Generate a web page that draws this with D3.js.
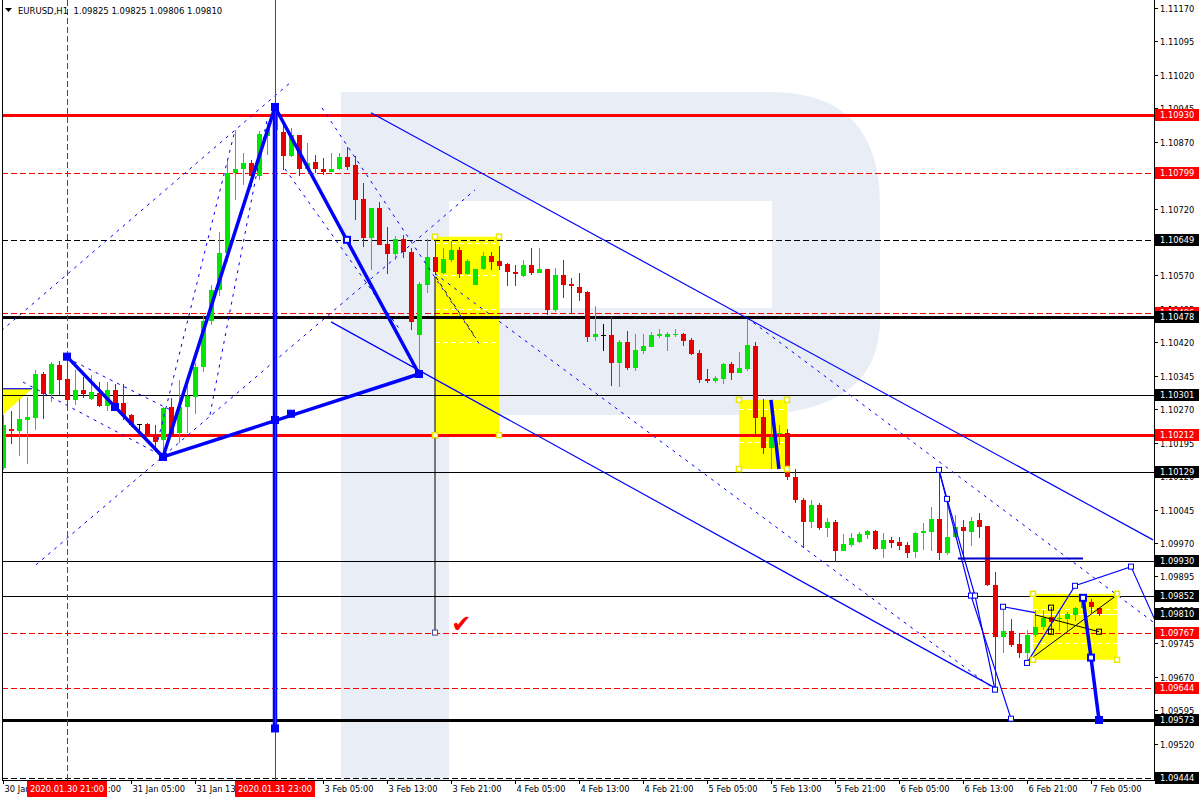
<!DOCTYPE html>
<html><head><meta charset="utf-8">
<script src="https://cdn.jsdelivr.net/npm/d3@7"></script>
<style>
html,body{margin:0;padding:0;background:#fff;overflow:hidden;}
svg{display:block;font-family:"DejaVu Sans",sans-serif;}
</style></head><body>
<svg id="c" width="1200" height="800"></svg>
<script>
// ---------------- DATA ----------------
const symbolTitle = "EURUSD,H1";
const lastQuote = ["1.09825","1.09825","1.09806","1.09810"];
const currentPrice = 1.09810;

const open = [1.10139,1.10226,1.10222,1.10246,1.10251,1.10349,1.10305,1.10370,1.10338,1.10291,
1.10314,1.10293,1.10307,1.10278,1.10314,1.10284,1.10258,1.10237,1.10237,1.10213,
1.10201,1.10275,1.10217,1.10275,1.10298,1.10365,1.10468,1.10538,1.10621,1.10800,
1.10809,1.10823,1.10793,1.10883,1.10896,1.10892,1.10838,1.10885,1.10809,1.10825,
1.10809,1.10802,1.10809,1.10836,1.10818,1.10742,1.10654,1.10722,1.10641,1.10618,
1.10652,1.10623,1.10437,1.10549,1.10612,1.10576,1.10605,1.10627,1.10574,1.10549,
1.10585,1.10614,1.10603,1.10596,1.10578,1.10569,1.10594,1.10576,1.10585,1.10493,
1.10571,1.10551,1.10544,1.10533,1.10432,1.10437,1.10437,1.10374,1.10421,1.10363,
1.10401,1.10410,1.10435,1.10432,1.10437,1.10439,1.10426,1.10396,1.10338,1.10334,
1.10338,1.10372,1.10352,1.10361,1.10412,1.10253,1.10184,1.10215,1.10217,1.10119,
1.10067,1.10018,1.10056,1.10004,1.10018,1.09953,1.09966,1.09973,1.09988,1.09997,
1.09957,1.09977,1.09973,1.09966,1.09950,1.09993,1.09995,1.10024,1.09948,1.09984,
1.10006,1.09995,1.10022,1.10009,1.09876,1.09760,1.09773,1.09744,1.09724,1.09764,
1.09782,1.09805,1.09800,1.09800,1.09809,1.09825,1.09838,1.09825];
const high = [1.10258,1.10266,1.10293,1.10298,1.10358,1.10354,1.10376,1.10379,1.10388,1.10358,
1.10343,1.10347,1.10331,1.10331,1.10327,1.10327,1.10260,1.10237,1.10240,1.10235,
1.10275,1.10296,1.10336,1.10329,1.10374,1.10482,1.10549,1.10668,1.10829,1.10896,
1.10845,1.10829,1.10894,1.10912,1.10948,1.10919,1.10901,1.10885,1.10868,1.10840,
1.10834,1.10845,1.10845,1.10858,1.10838,1.10778,1.10722,1.10735,1.10679,1.10659,
1.10661,1.10632,1.10556,1.10652,1.10657,1.10632,1.10648,1.10634,1.10607,1.10585,
1.10623,1.10623,1.10636,1.10598,1.10594,1.10605,1.10632,1.10632,1.10585,1.10587,
1.10605,1.10565,1.10576,1.10536,1.10502,1.10462,1.10477,1.10426,1.10446,1.10439,
1.10439,1.10444,1.10450,1.10444,1.10450,1.10441,1.10430,1.10403,1.10361,1.10345,
1.10374,1.10376,1.10399,1.10475,1.10421,1.10293,1.10251,1.10235,1.10226,1.10136,
1.10071,1.10067,1.10060,1.10027,1.10022,1.09991,1.09993,1.09995,1.10000,1.10000,
1.09993,1.09984,1.09984,1.09973,1.09995,1.10015,1.10051,1.10134,1.10069,1.10033,
1.10022,1.10029,1.10038,1.10009,1.09906,1.09827,1.09800,1.09767,1.09775,1.09820,
1.09820,1.09827,1.09820,1.09816,1.09827,1.09847,1.09845,1.09825];
const low = [1.10134,1.10193,1.10166,1.10148,1.10224,1.10249,1.10287,1.10302,1.10280,1.10280,
1.10296,1.10291,1.10275,1.10266,1.10269,1.10246,1.10231,1.10213,1.10208,1.10175,
1.10163,1.10208,1.10195,1.10217,1.10260,1.10354,1.10459,1.10524,1.10601,1.10740,
1.10773,1.10769,1.10784,1.10840,1.10881,1.10807,1.10836,1.10793,1.10806,1.10800,
1.10796,1.10802,1.10807,1.10807,1.10695,1.10634,1.10583,1.10639,1.10574,1.10605,
1.10610,1.10448,1.10349,1.10531,1.10571,1.10574,1.10601,1.10565,1.10571,1.10549,
1.10583,1.10583,1.10583,1.10547,1.10547,1.10567,1.10571,1.10576,1.10482,1.10488,
1.10520,1.10486,1.10513,1.10421,1.10423,1.10401,1.10323,1.10320,1.10358,1.10356,
1.10394,1.10410,1.10430,1.10401,1.10432,1.10412,1.10392,1.10329,1.10329,1.10329,
1.10327,1.10336,1.10352,1.10356,1.10208,1.10170,1.10136,1.10190,1.10112,1.10060,
1.09959,1.10004,1.10000,1.09984,1.09928,1.09953,1.09961,1.09971,1.09979,1.09955,
1.09937,1.09959,1.09955,1.09937,1.09937,1.09955,1.09953,1.09932,1.09944,1.09982,
1.09932,1.09964,1.09982,1.09874,1.09641,1.09724,1.09737,1.09713,1.09704,1.09760,
1.09775,1.09769,1.09773,1.09771,1.09796,1.09814,1.09814,1.09806];
const close = [1.10235,1.10222,1.10249,1.10253,1.10349,1.10305,1.10372,1.10336,1.10291,1.10314,
1.10305,1.10309,1.10278,1.10314,1.10284,1.10255,1.10235,1.10237,1.10210,1.10197,
1.10273,1.10213,1.10275,1.10300,1.10365,1.10468,1.10538,1.10621,1.10800,1.10809,
1.10823,1.10793,1.10888,1.10899,1.10941,1.10838,1.10885,1.10809,1.10823,1.10809,
1.10802,1.10809,1.10836,1.10814,1.10740,1.10654,1.10722,1.10639,1.10618,1.10652,
1.10623,1.10466,1.10551,1.10612,1.10578,1.10607,1.10627,1.10574,1.10603,1.10585,
1.10614,1.10601,1.10592,1.10578,1.10574,1.10594,1.10576,1.10585,1.10493,1.10571,
1.10549,1.10547,1.10531,1.10432,1.10439,1.10437,1.10374,1.10421,1.10363,1.10403,
1.10412,1.10437,1.10439,1.10439,1.10439,1.10423,1.10394,1.10336,1.10334,1.10340,
1.10372,1.10352,1.10363,1.10414,1.10251,1.10184,1.10208,1.10217,1.10119,1.10067,
1.10018,1.10056,1.10004,1.10018,1.09953,1.09968,1.09982,1.09991,1.09997,1.09957,
1.09977,1.09970,1.09964,1.09948,1.09993,1.09997,1.10024,1.09948,1.09984,1.10006,
1.09997,1.10020,1.10006,1.09876,1.09760,1.09773,1.09742,1.09724,1.09764,1.09782,
1.09802,1.09793,1.09802,1.09811,1.09825,1.09838,1.09827,1.09810];

// time axis: label every 8 bars
const timeLabelIdx = [0,8,16,24,32,40,48,56,64,72,80,88,96,104,112,120,128,136];
const timeLabels = ["30 Jan 13:00","30 Jan 21:00","31 Jan 05:00","31 Jan 13:00","31 Jan 21:00",
"3 Feb 05:00","3 Feb 13:00","3 Feb 21:00","4 Feb 05:00","4 Feb 13:00","4 Feb 21:00",
"5 Feb 05:00","5 Feb 13:00","5 Feb 21:00","6 Feb 05:00","6 Feb 13:00","6 Feb 21:00","7 Feb 05:00"];

const priceTicks = [1.11170,1.11095,1.11020,1.10945,1.10870,1.10795,1.10720,1.10645,1.10570,1.10495,
1.10420,1.10345,1.10270,1.10195,1.10120,1.10045,1.09970,1.09895,1.09820,1.09745,1.09670,1.09595,1.09520];

// horizontal levels
const levelPrices = [1.10930,1.10799,1.10649,1.10486,1.10478,1.10301,1.10212,1.10129,1.09930,1.09852,1.09767,1.09644,1.09573,1.09444];
// vertical time markers
const vlineIdx = [8,34];
const vlineLabels = ["2020.01.30 21:00","2020.01.31 23:00"];

// annotations in (bar index, price)
const zigzag = [[8,1.10388],[20,1.10163],[34,1.10948],[52,1.10349]];
const zigzagBase = [[20,1.10163],[52,1.10349]];
const zigzagVertical = [[34,1.10948],[34,1.09554]];
const projRight = [[135,1.09847],[136,1.09713],[137,1.09573]];
const projMid = [[96,1.10291],[97,1.10136]];
const thinLines = [
 [[46,1.10935],[143.75,1.09977]],
 [[41,1.10466],[124,1.09645]],
 [[117,1.10134],[118,1.10069],[121.5,1.09852],[124,1.09641]],
 [[117,1.10134],[121,1.09852],[126,1.09576]],
 [[125,1.09827],[129,1.09814]],
 [[128,1.09701],[134,1.09874],[141,1.09917],[144,1.09797]],
 [[-0.2,1.10316],[3.625,1.10316]]
];
const boldHoriz = [[119.375,1.09935],[135,1.09935]];
const dashedLines = [
 [[-0.2,1.10446],[35.875,1.11002]],
 [[4.125,1.09921],[59,1.10762]],
 [[19.375,1.10201],[29,1.10896]],
 [[25.875,1.10258],[33,1.10919]],
 [[8,1.10385],[20.875,1.10269]],
 [[2.5,1.10331],[19.625,1.10168]],
 [[39.875,1.10946],[59.625,1.10414]],
 [[35.25,1.10809],[49.625,1.10448]],
 [[54,1.10574],[124,1.09641]],
 [[93,1.10475],[143.75,1.09793]]
];
const blackLines = [
 [[128,1.09704],[139,1.09850]],
 [[129,1.09809],[137,1.09771]],
 [[54,1.10567],[54,1.09769]]
];
const blackDashed = [[54.1,1.10567],[59.1,1.10430]];
const yellowBoxes = [[54,62,1.10657,1.10212],[92,98,1.10291,1.10136],[128.75,139.25,1.09856,1.09708]];
const yellowTriangle = [[-0.2,1.10316],[3.625,1.10316],[-0.2,1.10255]];
const boxLevels = [[1.10643,1.10571,1.10495,1.10421],[1.10271,1.10197],[1.09822,1.09746]];
const markersFilled = [[8,1.10388],[14,1.10275],[20,1.10163],[34,1.10948],[52,1.10349],[34,1.10246],[36,1.10260],[34,1.09554],[137,1.09573]];
const markersHollowThick = [[43,1.10650],[135,1.09847],[136,1.09713]];
const markersHollowThin = [[117,1.10134],[118,1.10069],[121,1.09852],[121.5,1.09852],[124,1.09641],[126,1.09576],[125,1.09827],[128,1.09701],[134,1.09874],[141,1.09917]];
const markersBlack = [[131,1.09825],[131,1.09771],[137,1.09771]];
const markerGray = [[54,1.09769]];
const markerRed = [[54,1.10212]];
const checkMark = [57.3,1.09786];

// ---------------- CHART ----------------
const W=1200,H=800, L=2, R=1154, T=0, B=780;
const svg = d3.select("#c");
const x = d3.scaleLinear().domain([0,137]).range([3,1099]);
const y = d3.scaleLinear().domain([1.09444,1.11170]).range([777.5,8]);
const line = d3.line().x(d=>x(d[0])).y(d=>y(d[1]));

svg.append("defs").append("clipPath").attr("id","plot").append("rect")
  .attr("x",L).attr("y",0).attr("width",R-L).attr("height",B);
const g = svg.append("g").attr("clip-path","url(#plot)");

// watermark logo (decorative)
g.append("path").attr("fill","#e9edf5").attr("fill-rule","evenodd")
 .attr("d","M341,92 L770,92 Q880,92 880,205 L880,320 Q880,415 745,415 L449,415 L449,780 L341,780 Z M449,201 L772,201 L772,308 L449,308 Z");

// yellow boxes
yellowBoxes.forEach(b=>{
  g.append("rect").attr("x",x(b[0])).attr("y",y(b[2])).attr("width",x(b[1])-x(b[0])).attr("height",y(b[3])-y(b[2])).attr("fill","#ffff00");
});
g.append("path").attr("d",line(yellowTriangle)+"Z").attr("fill","#ffff00");
boxLevels.forEach((lv,k)=>{
  const b=yellowBoxes[k];
  lv.forEach(p=>{
    g.append("line").attr("x1",x(b[0])).attr("x2",x(b[1])).attr("y1",Math.round(y(p))+0.5).attr("y2",Math.round(y(p))+0.5)
     .attr("stroke","#fff").attr("stroke-width",1).attr("stroke-dasharray","5,3");
  });
});
// current price line (white, visible over the last box)
{
  const b=yellowBoxes[2];
  g.append("line").attr("x1",x(b[0])).attr("x2",R).attr("y1",Math.round(y(currentPrice))+0.5).attr("y2",Math.round(y(currentPrice))+0.5).attr("stroke","#fff");
}

// horizontal levels
const levelStyle = [
 {c:"#ff0000",w:3,d:null,bg:"#ff0000"},
 {c:"#ff0000",w:1,d:"6,3",bg:"#ff0000"},
 {c:"#000",w:1,d:"6,3",bg:"#000"},
 {c:"#ff0000",w:1,d:"6,3",bg:"#ff0000"},
 {c:"#000",w:3,d:null,bg:"#000"},
 {c:"#000",w:1,d:null,bg:"#000"},
 {c:"#ff0000",w:3,d:null,bg:"#ff0000"},
 {c:"#000",w:1,d:null,bg:"#000"},
 {c:"#000",w:1,d:null,bg:"#000"},
 {c:"#000",w:1,d:null,bg:"#000"},
 {c:"#ff0000",w:1,d:"6,3",bg:"#ff0000"},
 {c:"#ff0000",w:1,d:"6,3",bg:"#ff0000"},
 {c:"#000",w:3,d:null,bg:"#000"},
 {c:"#000",w:1,d:"6,3",bg:"#000"}
];
levelPrices.forEach((p,k)=>{
  const s=levelStyle[k]; const yy=Math.round(y(p))+(s.w%2?0.5:0);
  g.append("line").attr("x1",L).attr("x2",R).attr("y1",yy).attr("y2",yy)
   .attr("stroke",s.c).attr("stroke-width",s.w).attr("stroke-dasharray",s.d);
});

// candles
const bull="#00e600", bear="#e60000";
const cg = g.append("g").attr("shape-rendering","crispEdges");
open.forEach((o,i)=>{
  const c=close[i], cx=Math.round(x(i));
  const col = c>o?bull:(c<o?bear:"#000");
  cg.append("rect").attr("x",cx).attr("y",Math.round(y(high[i]))).attr("width",1)
    .attr("height",Math.max(1,Math.round(y(low[i]))-Math.round(y(high[i])))).attr("fill",col);
  const top=Math.round(y(Math.max(o,c))), bot=Math.round(y(Math.min(o,c)));
  cg.append("rect").attr("x",cx-2).attr("y",top).attr("width",5).attr("height",Math.max(1,bot-top)).attr("fill",col);
});

// blue thin & dashed lines
dashedLines.forEach(d=>g.append("path").attr("d",line(d)).attr("fill","none").attr("stroke","#0000ff").attr("stroke-width",1).attr("stroke-dasharray","3,5"));
thinLines.forEach(d=>g.append("path").attr("d",line(d)).attr("fill","none").attr("stroke","#0000ff").attr("stroke-width",1.2));
g.append("path").attr("d",line(boldHoriz)).attr("stroke","#0000cc").attr("stroke-width",2);
blackLines.forEach(d=>g.append("path").attr("d",line(d)).attr("fill","none").attr("stroke","#000").attr("stroke-width",1));
g.append("path").attr("d",line(blackDashed)).attr("fill","none").attr("stroke","#000").attr("stroke-width",1).attr("stroke-dasharray","4,4");

// thick zigzag
[zigzag,zigzagBase,projRight,projMid].forEach(d=>g.append("path").attr("d",line(d)).attr("fill","none").attr("stroke","#0000ff").attr("stroke-width",3.5).attr("stroke-linejoin","round"));
g.append("path").attr("d",line(zigzagVertical)).attr("stroke","#0000ff").attr("stroke-width",4.5);

// vertical time lines
vlineIdx.forEach((i,k)=>{
  const xx=Math.round(x(i))+0.5;
  g.append("line").attr("x1",xx).attr("x2",xx).attr("y1",0).attr("y2",B).attr("stroke","#ff0000").attr("stroke-width",1)
   .attr("stroke-dasharray",k===0?"6,3":null);
});

// markers
function sq(pt,size,fill,stroke,sw){
  g.append("rect").attr("x",x(pt[0])-size/2).attr("y",y(pt[1])-size/2).attr("width",size).attr("height",size)
   .attr("fill",fill).attr("stroke",stroke).attr("stroke-width",sw);
}
markersFilled.forEach(p=>sq(p,7,"#0000ff","#0000ff",1));
markersHollowThick.forEach(p=>sq(p,6,"#fff","#0000ff",2));
markersHollowThin.forEach(p=>sq(p,5,"#fff","#0000ff",1));
markersBlack.forEach(p=>sq(p,5,"none","#000",1));
markerGray.forEach(p=>sq(p,5,"#fff","#4a4a9a",1));
markerRed.forEach(p=>sq(p,5,"none","#ff0000",1.2));
yellowBoxes.forEach(b=>{
  [[b[0],b[2]],[b[1],b[2]],[b[0],b[3]],[b[1],b[3]]].forEach(p=>sq(p,5,"#fff","#e8e800",1.5));
});
g.append("text").attr("x",x(checkMark[0])).attr("y",y(checkMark[1])+7).attr("text-anchor","middle")
 .attr("font-size",24).attr("fill","#ff0000").text("\u2714");

// ---------------- AXES ----------------
svg.append("line").attr("x1",L+0.5).attr("x2",L+0.5).attr("y1",0).attr("y2",B).attr("stroke","#000");
svg.append("line").attr("x1",R+0.5).attr("x2",R+0.5).attr("y1",0).attr("y2",B+1).attr("stroke","#000");
svg.append("line").attr("x1",L).attr("x2",R+1).attr("y1",B+0.5).attr("y2",B+0.5).attr("stroke","#000");

const ax = svg.append("g").attr("font-size",8.3).attr("fill","#000");
priceTicks.forEach(p=>{
  const yy=Math.round(y(p))+0.5;
  ax.append("line").attr("x1",R).attr("x2",R+4).attr("y1",yy).attr("y2",yy).attr("stroke","#000");
  ax.append("text").attr("x",1160).attr("y",yy+3).text(p.toFixed(5));
});
timeLabelIdx.forEach((i,k)=>{
  const xx=Math.round(x(i))+0.5;
  ax.append("line").attr("x1",xx).attr("x2",xx).attr("y1",B).attr("y2",B+4).attr("stroke","#000");
  ax.append("text").attr("x",xx+1).attr("y",792).text(timeLabels[k]);
});
// level labels
levelPrices.forEach((p,k)=>{
  const yy=Math.round(y(p));
  ax.append("rect").attr("x",R+1).attr("y",yy-6).attr("width",44).attr("height",12).attr("fill",levelStyle[k].bg);
  ax.append("text").attr("x",1160).attr("y",yy+3).attr("fill","#fff").text(p.toFixed(5));
});
// current price label
{
  const yy=Math.round(y(currentPrice));
  ax.append("rect").attr("x",R+1).attr("y",yy-6).attr("width",44).attr("height",12).attr("fill","#000");
  ax.append("text").attr("x",1160).attr("y",yy+3).attr("fill","#fff").text(currentPrice.toFixed(5));
}
// vertical line labels
vlineIdx.forEach((i,k)=>{
  const xx=Math.round(x(i));
  ax.append("rect").attr("x",xx-40).attr("y",781).attr("width",80).attr("height",16).attr("fill","#ff0000");
  ax.append("text").attr("x",xx).attr("y",792).attr("text-anchor","middle").attr("fill","#fff").text(vlineLabels[k]);
});

// header
svg.append("path").attr("d","M5,8 L12,8 L8.5,12 Z").attr("fill","#000");
svg.append("text").attr("x",18).attr("y",14).attr("font-size",8.5).attr("fill","#000")
  .text(symbolTitle+"  "+lastQuote.join(" ")).attr("xml:space","preserve").style("white-space","pre");
</script>
</body></html>
